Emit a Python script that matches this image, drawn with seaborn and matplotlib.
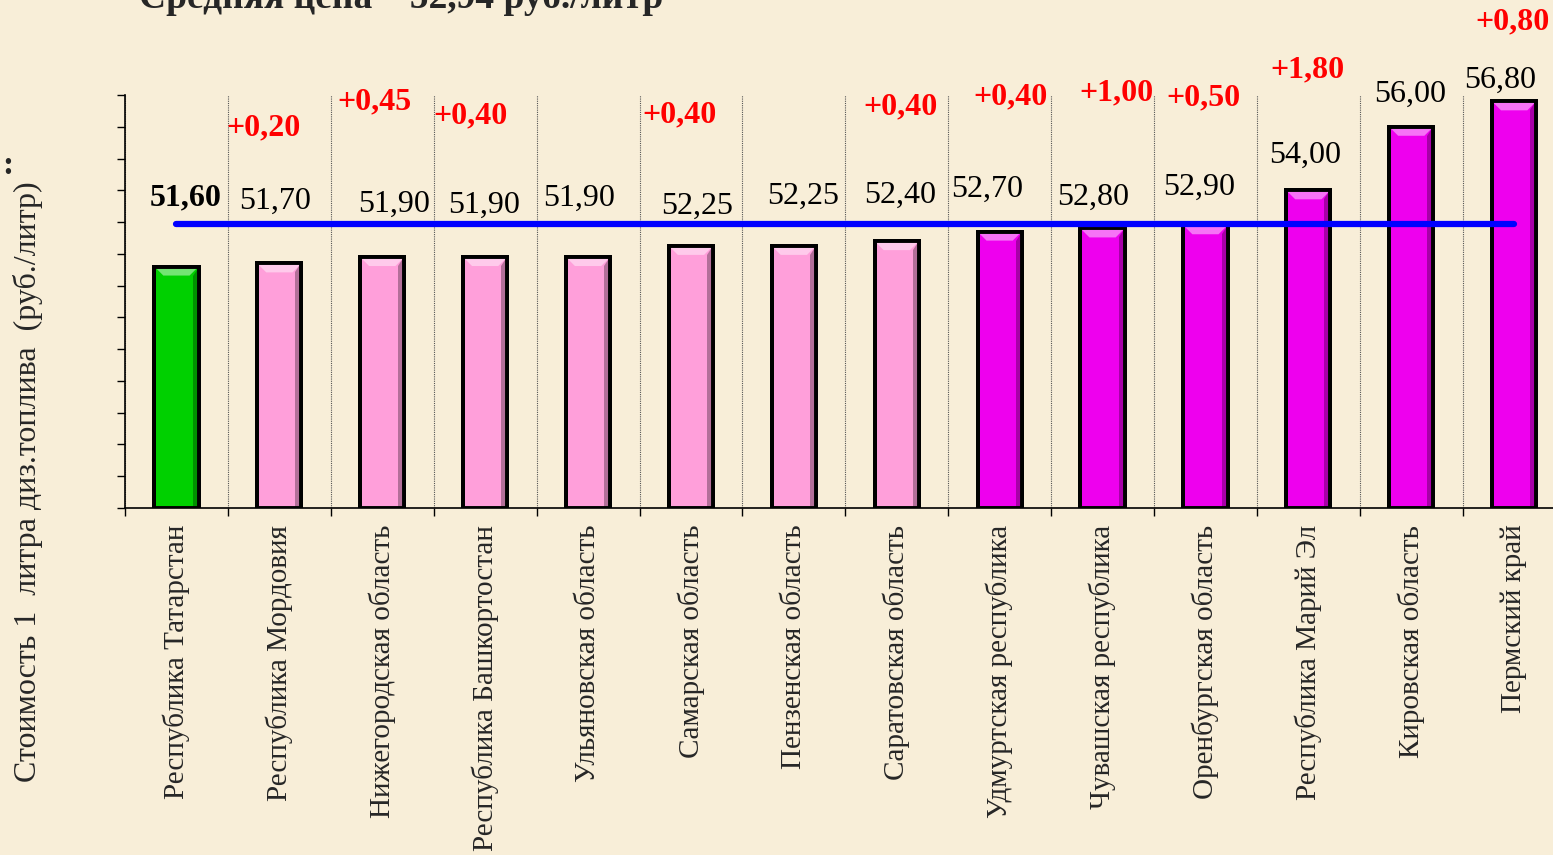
import matplotlib

matplotlib.use("Agg")

import matplotlib.pyplot as plt  # noqa: E402
import numpy as np  # noqa: E402
import seaborn as sns  # noqa: E402
from matplotlib.colors import to_rgb  # noqa: E402
from matplotlib.patches import Polygon  # noqa: E402
from matplotlib.ticker import FixedLocator, NullFormatter  # noqa: E402

regions = [
    "Республика Татарстан",
    "Республика Мордовия",
    "Нижегородская область",
    "Республика Башкортостан",
    "Ульяновская область",
    "Самарская область",
    "Пензенская область",
    "Саратовская область",
    "Удмуртская республика",
    "Чувашская республика",
    "Оренбургская область",
    "Республика Марий Эл",
    "Кировская область",
    "Пермский край",
]
prices = [51.60, 51.70, 51.90, 51.90, 51.90, 52.25, 52.25, 52.40,
          52.70, 52.80, 52.90, 54.00, 56.00, 56.80]
deltas = [None, 0.20, 0.45, 0.40, None, 0.40, None, 0.40,
          0.40, 1.00, 0.50, 1.80, None, 0.80]
groups = ["own"] + ["below"] * 7 + ["above"] * 6
average = 52.94

# label offsets in pixels from the bar top (layout only)
value_offsets = [(9, 69), (-4, 62), (12, 53), (-1, 52), (-9, 59), (6, 40), (9, 50),
                 (3, 46), (-13, 42), (-9, 31), (-6, 38), (-3, 35), (-1, 32), (-14, 21)]
delta_offsets = [None, (-16, 135), (-8, 155), (-15, 141), None, (-11, 131), None,
                 (4, 134), (11, 135), (14, 136), (-2, 127), (-1, 120), None, (-2, 79)]

palette = {"own": "#00D000", "below": "#FF9FDA", "above": "#EE00EE"}
bg = "#F8EED8"


def fmt(v):
    return f"{v:.2f}".replace(".", ",")


def mix(c, other, t):
    c, o = np.array(to_rgb(c)), np.array(to_rgb(other))
    return tuple(c * (1 - t) + o * t)


sns.set_style("white")
plt.rcParams["font.family"] = ["Liberation Serif", "DejaVu Serif"]

fig = plt.figure(figsize=(15.53, 8.55), dpi=100, facecolor=bg)
ax = fig.add_axes([125 / 1553, 347 / 855, 1440.6 / 1553, 413 / 855])
ax.set_facecolor(bg)

sns.barplot(x=regions, y=prices, hue=groups, palette=palette, dodge=False,
            width=0.43, edgecolor="black", linewidth=2.8, legend=False,
            saturation=1, ax=ax)

ax.set_xlim(-0.5, len(regions) - 0.5)
ax.set_ylim(44, 57)

# bevel highlight on each bar, derived from the bar geometry
px_x = 1 / 102.9
px_y = 1 / 31.77
for bar in ax.patches:
    x0, w, top = bar.get_x(), bar.get_width(), bar.get_height()
    face = bar.get_facecolor()
    x1 = x0 + w
    bev = 9
    ax.add_patch(Polygon([(x0, top), (x1, top), (x1 - bev * px_x, top - bev * px_y),
                          (x0 + bev * px_x, top - bev * px_y)],
                         closed=True, facecolor=mix(face, "white", 0.45),
                         edgecolor="none", zorder=bar.get_zorder() + 0.1))
    ax.add_patch(Polygon([(x1, top), (x1, 44), (x1 - 6 * px_x, 44),
                          (x1 - 6 * px_x, top - bev * px_y)],
                         closed=True, facecolor=mix(face, "black", 0.3),
                         edgecolor="none", zorder=bar.get_zorder() + 0.1))
    ax.add_patch(Polygon([(x0, top), (x1, top), (x1, 44), (x0, 44)], closed=True,
                         facecolor="none", edgecolor="black", lw=2.8,
                         zorder=bar.get_zorder() + 0.2))

ax.yaxis.set_major_locator(FixedLocator(np.arange(44, 58, 1)))
ax.yaxis.set_major_formatter(NullFormatter())
ax.tick_params(axis="y", which="major", direction="out", length=6, width=1,
               color="black", left=True)
ax.xaxis.set_minor_locator(FixedLocator(np.arange(-0.5, len(regions), 1)))
ax.tick_params(axis="x", which="minor", direction="out", length=6, width=1,
               color="black", bottom=True)
ax.tick_params(axis="x", which="major", length=0, pad=12)
ax.grid(False)
ax.grid(which="minor", axis="x", linestyle=(0, (1, 1)), color="#555555", lw=0.8)
ax.set_axisbelow(True)

for side in ("top", "right"):
    ax.spines[side].set_visible(False)
for side in ("left", "bottom"):
    ax.spines[side].set_color("black")
    ax.spines[side].set_linewidth(1.2)
    ax.spines[side].set_zorder(6)

ax.set_xticks(range(len(regions)))
ax.set_xticklabels(regions, rotation=90, fontsize=21)
ax.set_xlabel("")
ax.set_ylabel("")

ax.plot([0, len(regions) - 1], [average, average], color="#0000FF", lw=4.5,
        solid_capstyle="round", zorder=5)

for i, v in enumerate(prices):
    dx, dy = value_offsets[i]
    ax.annotate(fmt(v), xy=(i, v), xytext=(dx, dy), textcoords="offset pixels",
                ha="center", va="center", fontsize=23,
                fontweight="bold" if i == 0 else "normal", color="black",
                annotation_clip=False)
    if deltas[i] is not None:
        dx, dy = delta_offsets[i]
        ax.annotate("+" + fmt(deltas[i]), xy=(i, v), xytext=(dx, dy),
                    textcoords="offset pixels", ha="center", va="center",
                    fontsize=23, fontweight="bold", color="#FF0000",
                    annotation_clip=False)

fig.text(401 / 1553, 1 - 8 / 855, f"Средняя цена – {fmt(average)} руб./литр",
         ha="center", va="baseline", fontsize=27, fontweight="bold")
fig.text(28 / 1553, 1 - 482 / 855, "Стоимость 1  литра диз.топлива  (руб./литр)",
         rotation=90, ha="center", va="center", fontsize=23)
fig.text(8 / 1553, 1 - 165 / 855, ":", ha="center", va="center", fontsize=24,
         fontweight="bold")

fig.savefig("out.png", dpi=100, facecolor=bg)
